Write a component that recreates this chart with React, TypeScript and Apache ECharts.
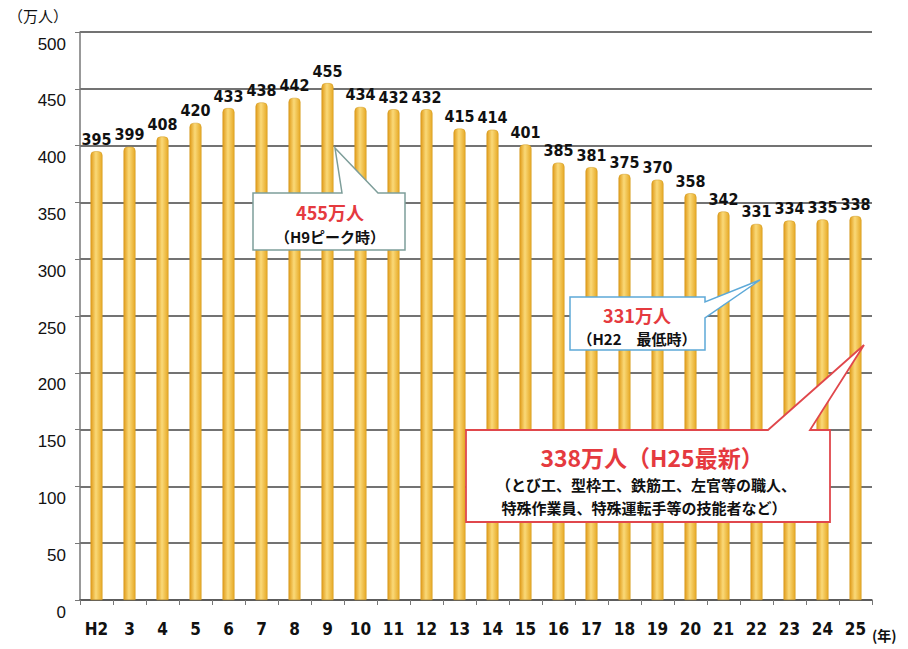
import React, { useEffect, useRef } from "react";
import * as echarts from "echarts";

const categories = ["H2", "3", "4", "5", "6", "7", "8", "9", "10", "11", "12", "13", "14", "15", "16", "17", "18", "19", "20", "21", "22", "23", "24", "25"];
const workers = [395, 399, 408, 420, 433, 438, 442, 455, 434, 432, 432, 415, 414, 401, 385, 381, 375, 370, 358, 342, 331, 334, 335, 338];
const yUnit = "（万人）";
const xUnit = "(年)";
const peakTitle = "455万人";
const peakSub = "（H9ピーク時）";
const lowTitle = "331万人";
const lowSub = "（H22　最低時）";
const latestTitle = "338万人（H25最新）";
const latestSub1 = "（とび工、型枠工、鉄筋工、左官等の職人、";
const latestSub2 = "特殊作業員、特殊運転手等の技能者など）";

const JP = '"Noto Sans CJK JP", "Noto Sans", sans-serif';
const NUM = '"Liberation Sans Narrow", "DejaVu Sans Condensed", "Liberation Sans", sans-serif';

export default function App() {
  const ref = useRef<HTMLDivElement>(null);
  useEffect(() => {
    const chart = echarts.init(ref.current!, undefined, { renderer: "svg" });
    const barColor = new echarts.graphic.LinearGradient(0, 0, 1, 0, [
      { offset: 0, color: "#E09A18" },
      { offset: 0.45, color: "#FAD978" },
      { offset: 1, color: "#E6A824" },
    ]);
    chart.setOption({
      animation: false,
      backgroundColor: "#ffffff",
      grid: { left: 80, right: 36, top: 32, bottom: 49, containLabel: false },
      xAxis: {
        type: "category",
        data: categories,
        axisLine: { lineStyle: { color: "#555", width: 1.5 } },
        axisTick: { show: true, alignWithLabel: false, lineStyle: { color: "#777" } },
        axisLabel: { color: "#111", fontFamily: NUM, fontWeight: "bold", fontSize: 17, margin: 20, interval: 0 },
      },
      yAxis: {
        type: "value",
        min: 0,
        max: 500,
        interval: 50,
        axisLine: { show: true, lineStyle: { color: "#777", width: 1.5 } },
        axisTick: { show: true, lineStyle: { color: "#777" } },
        axisLabel: {
          color: "#111",
          fontFamily: '"Liberation Sans", Arial, sans-serif',
          fontSize: 17,
          margin: 14,
          verticalAlign: "top",
          lineHeight: 24,
        },
        splitLine: { lineStyle: { color: "#444", width: 1.5 } },
      },
      series: [
        {
          type: "bar",
          data: workers,
          barWidth: 12,
          itemStyle: { color: barColor, borderColor: "#D09A20", borderWidth: 0.5, borderRadius: [4, 4, 0, 0] },
          label: {
            show: true,
            position: "top",
            distance: 4,
            color: "#111",
            fontFamily: NUM,
            fontWeight: "bold",
            fontSize: 16,
          },
        },
      ],
      graphic: [
        { type: "text", left: 8, top: 8, style: { text: yUnit, font: `15px ${JP}`, fill: "#111" } },
        { type: "text", x: 872, y: 628, style: { text: xUnit, font: `bold 14px ${JP}`, fill: "#111" } },
        {
          type: "polygon",
          z: 100,
          shape: { points: [[253, 193], [342, 193], [335, 148], [378, 193], [405, 193], [405, 250], [253, 250]] },
          style: { fill: "#ffffff", stroke: "#7E9E9A", lineWidth: 1.5 },
        },
        { type: "text", z: 101, x: 330, y: 212, style: { text: peakTitle, font: `bold 18px ${JP}`, fill: "#E53A3F", textAlign: "center", textVerticalAlign: "middle" } },
        { type: "text", z: 101, x: 330, y: 236, style: { text: peakSub, font: `bold 15px ${JP}`, fill: "#111", textAlign: "center", textVerticalAlign: "middle" } },
        {
          type: "polygon",
          z: 100,
          shape: { points: [[570, 297], [705, 297], [705, 302], [760, 280], [705, 318], [705, 350], [570, 350]] },
          style: { fill: "#ffffff", stroke: "#5DA9D8", lineWidth: 1.5 },
        },
        { type: "text", z: 101, x: 637, y: 315, style: { text: lowTitle, font: `bold 18px ${JP}`, fill: "#E53A3F", textAlign: "center", textVerticalAlign: "middle" } },
        { type: "text", z: 101, x: 637, y: 338, style: { text: lowSub, font: `bold 15px ${JP}`, fill: "#111", textAlign: "center", textVerticalAlign: "middle" } },
        {
          type: "polygon",
          z: 100,
          shape: { points: [[466, 430], [768, 430], [864, 345], [810, 430], [830, 430], [830, 522], [466, 522]] },
          style: { fill: "#ffffff", stroke: "#E0474C", lineWidth: 1.8 },
        },
        { type: "text", z: 101, x: 652, y: 457, style: { text: latestTitle, font: `bold 23px ${JP}`, fill: "#E53A3F", textAlign: "center", textVerticalAlign: "middle" } },
        { type: "text", z: 101, x: 646, y: 484, style: { text: latestSub1, font: `bold 15px ${JP}`, fill: "#111", textAlign: "center", textVerticalAlign: "middle" } },
        { type: "text", z: 101, x: 644, y: 507, style: { text: latestSub2, font: `bold 15px ${JP}`, fill: "#111", textAlign: "center", textVerticalAlign: "middle" } },
      ],
    });
    return () => chart.dispose();
  }, []);
  return <div ref={ref} style={{ position: "fixed", left: 0, top: 0, width: 908, height: 649 }} />;
}
